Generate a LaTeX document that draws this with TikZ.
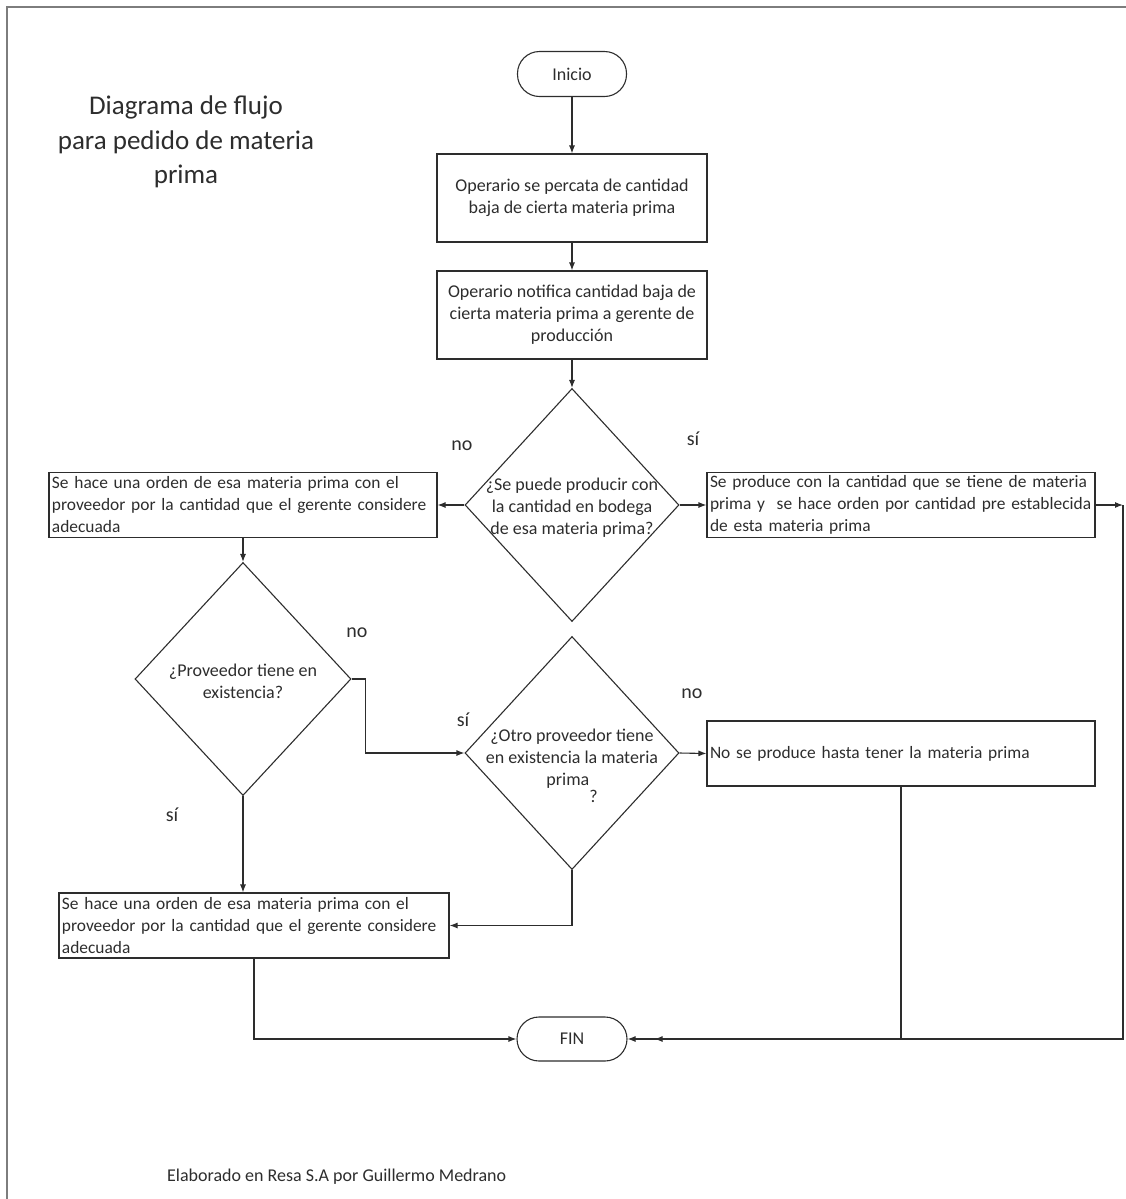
\documentclass[tikz,border=0pt]{standalone}
\usepackage{fontspec}
\setmainfont{Carlito}
\usetikzlibrary{arrows.meta,shapes.geometric,calc}
\definecolor{ink}{RGB}{45,45,45}
\definecolor{framec}{RGB}{125,125,125}
\newcommand{\bodyfnt}{\fontsize{18bp}{22bp}\selectfont}
\newcommand{\boxfnt}{\fontsize{17.4bp}{22bp}\selectfont}
\newcommand{\titlefnt}{\fontsize{27bp}{34.5bp}\selectfont}
\newcommand{\lblfnt}{\fontsize{20bp}{24bp}\selectfont}
\newcommand{\footfnt}{\fontsize{18bp}{22bp}\selectfont}
\hbadness=10000 \hfuzz=100pt
\begin{document}
\begin{tikzpicture}[x=1bp,y=-1bp,
  line/.style={draw=ink,line width=1.1bp},
  arr/.style={line,-{Latex[length=8bp,width=6bp]}},
  term/.style={draw=ink,line width=1.1bp,rectangle,rounded corners=22bp,minimum width=109bp,minimum height=45bp,inner sep=0pt,font=\bodyfnt,text=ink},
  pbox/.style={draw=ink,line width=1.1bp,rectangle,inner sep=0pt,minimum width=270bp,minimum height=88bp,align=center,font=\bodyfnt,text=ink},
  lbox/.style={draw=ink,line width=1.1bp,rectangle,inner xsep=3bp,inner ysep=0pt,minimum width=388bp,minimum height=65bp,text width=382bp,align=left,font=\boxfnt,text=ink},
  dec/.style={draw=ink,line width=1.1bp,diamond,inner sep=0pt,minimum width=214bp,minimum height=233bp},
  dtext/.style={align=center,font=\bodyfnt,text=ink,inner sep=0pt},
  lbl/.style={font=\lblfnt,text=ink,inner sep=0pt}
]
\useasboundingbox (0,0) rectangle (1126,1199);
% frame
\coordinate (ftl) at (7,7);
\coordinate (ftr) at (1126,7);
\coordinate (fbl) at (7,1199);
\draw[draw=framec,line width=1.2bp] (ftr) -- (ftl) -- (fbl);

% title
\node[font=\titlefnt,text=ink,align=center,inner sep=0pt] (title) at (186,142) {Diagrama de flujo\\para pedido de materia\\prima};

% nodes
\node[term] (ini) at (572,74) {Inicio};
\node[pbox] (b1) at (572,198) {Operario se percata de cantidad\\baja de cierta materia prima};
\node[pbox] (b2) at (572,315) {Operario notifica cantidad baja de\\cierta materia prima a gerente de\\producción};
\node[dec] (d1) at (572,505) {};
\node[dtext] (d1t) at (572,508) {¿Se puede producir con\\la cantidad en bodega\\de esa materia prima?};
\node[lbox] (l1) at (243,505) {\mbox{Se hace una orden de esa materia prima con el}\\\mbox{proveedor por la cantidad que el gerente considere}\\\mbox{adecuada}};
\node[lbox] (r1) at (901,505) {\mbox{Se produce con la cantidad que se tiene de materia}\\\mbox{prima y\ \ se hace orden por cantidad pre establecida}\\\mbox{de esta materia prima}};
\node[dec,minimum width=216bp] (d2) at (243,679) {};
\node[dtext] (d2t) at (243,681) {¿Proveedor tiene en\\existencia?};
\node[dec] (d3) at (572,753) {};
\node[dtext,anchor=north] (d3t) at (572,729) {¿Otro proveedor tiene\\en existencia la materia\\prima\raisebox{-17bp}{?}};
\node[lbox] (b3) at (901,753.5) {\mbox{No se produce hasta tener la materia prima}};
\node[lbox,minimum width=390bp,text width=384bp] (l2) at (254,925.5) {\mbox{Se hace una orden de esa materia prima con el}\\\mbox{proveedor por la cantidad que el gerente considere}\\\mbox{adecuada}};
\node[term,minimum width=110bp,minimum height=44bp] (fin) at (572,1039) {FIN};

% labels
\node[lbl] (no1) at (462,446) {no};
\node[lbl] (si1) at (693,439) {sí};
\node[lbl] (no2) at (357,633) {no};
\node[lbl] (si2) at (172,815) {sí};
\node[lbl] (si3) at (463,720) {sí};
\node[lbl] (no3) at (692,694) {no};

% footer
\node[font=\footfnt,text=ink,anchor=west,inner sep=0pt] (foot) at (167,1177) {Elaborado en Resa S.A por Guillermo Medrano};

% connectors
\draw[arr] (ini.south) -- (b1.north);
\draw[arr] (b1.south) -- (b2.north);
\draw[arr] (b2.south) -- (d1.north);
\draw[arr] (d1.west) -- (l1.east);
\draw[arr] (d1.east) -- (r1.west);
\draw[arr] (l1.south) -- (d2.north);
\draw[arr] (d2.east) -- ++(14,0) |- (d3.west);
\draw[arr] (d2.south) -- (d2.south |- l2.north);
\draw[arr] (d3.east) -- (b3.west);
\draw[arr] (d3.south) |- (l2.east);
\draw[arr] (l2.south) |- (fin.west);
\coordinate (fin2) at ($(fin.east)+(27,0)$);
\draw[arr] (b3.south) |- (fin2);
\coordinate (rc) at (1123,505);
\draw[arr] (r1.east) -- (rc);
\draw[arr] (rc) |- (fin.east);
\end{tikzpicture}
\end{document}
